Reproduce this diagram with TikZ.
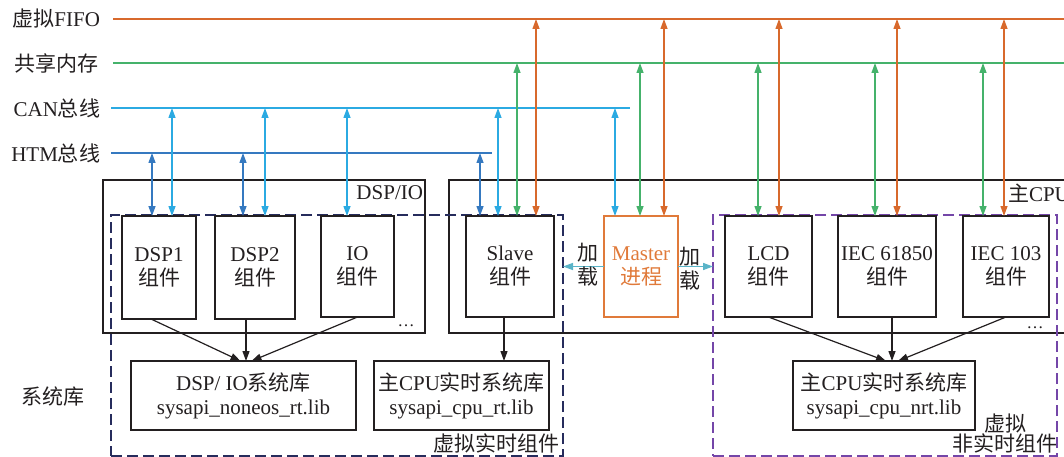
\documentclass[tikz,border=0pt]{standalone}
\usepackage{fontspec}
\setmainfont{Liberation Serif}
\newfontfamily\zhfont{Noto Sans CJK SC}
\usetikzlibrary{arrows.meta}
\definecolor{fifoc}{HTML}{D8692C}
\definecolor{shmc}{HTML}{45B26B}
\definecolor{canc}{HTML}{2BAAE2}
\definecolor{htmc}{HTML}{3579C0}
\definecolor{loadc}{HTML}{5AB4C8}
\definecolor{navyc}{HTML}{262C5C}
\definecolor{purc}{HTML}{7446A8}
\definecolor{txtc}{HTML}{231F20}
\definecolor{masterc}{HTML}{E07A3A}
\newcommand\zh[1]{{\zhfont #1}}
\begin{document}
\begin{tikzpicture}[x=1pt,y=-1pt,
  every node/.style={text=txtc, font=\fontsize{21}{24}\selectfont, inner sep=0pt, outer sep=0pt},
  comp/.style={draw=txtc, line width=1.2pt, anchor=north west, align=center},
  outerbox/.style={draw=txtc, line width=1.2pt, anchor=north west},
  dashbox/.style={line width=2.8pt, dash pattern=on 11pt off 5pt, anchor=north west},
  bus/.style={line width=1.8pt},
  varr/.style={{Triangle[length=10pt,width=7pt]}-{Triangle[length=10pt,width=7pt]}, line width=1.3pt},
  libarr/.style={-{Triangle[length=10pt,width=7pt]}, line width=1.2pt, draw=txtc},
  loadarr/.style={-{Triangle[length=10pt,width=7pt]}, line width=1.5pt, draw=loadc}
]
\clip (0,0) rectangle (1064,457);

% bus labels
\node[anchor=east] (lfifo) at (100,19) {\zh{虚拟}FIFO};
\node[anchor=east] (lshm) at (98,63) {\zh{共享内存}};
\node[anchor=east] (lcan) at (100,108) {CAN\zh{总线}};
\node[anchor=east] (lhtm) at (100,153) {HTM\zh{总线}};
\node (lsys) at (53,397) {\zh{系统库}};

% bus lines
\coordinate (fifoA) at (113,19);  \coordinate (fifoB) at (1064,19);
\coordinate (shmA) at (113,63);   \coordinate (shmB) at (1064,63);
\coordinate (canA) at (111,108);  \coordinate (canB) at (630,108);
\coordinate (htmA) at (111,153);  \coordinate (htmB) at (492,153);
\draw[bus, fifoc] (fifoA) -- (fifoB);
\draw[bus, shmc] (shmA) -- (shmB);
\draw[bus, canc] (canA) -- (canB);
\draw[bus, htmc] (htmA) -- (htmB);

% outer solid boxes
\node[outerbox, minimum width=322, minimum height=153] (dspio) at (103,180) {};
\node[anchor=base east] (dspiol) at (423,199) {DSP/IO};
\node[outerbox, minimum width=640, minimum height=153] (cpu) at (449,180) {};
\node[anchor=base west] (cpul) at (1008,201) {\zh{主}CPU};

% dashed boxes
\node[dashbox, draw=navyc, minimum width=452, minimum height=241] (vrt) at (111,215) {};
\node[anchor=base east] (vrtl) at (559,451) {\zh{虚拟实时组件}};
\node[dashbox, draw=purc, minimum width=344, minimum height=241] (vnrt) at (713,215) {};
\node[align=center, font=\fontsize{21}{20}\selectfont] (vnrtl) at (1005,434) {\zh{虚拟}\\\zh{非实时组件}};

% components
\node[comp, minimum width=74, minimum height=103] (dsp1) at (122,216) {DSP1\\\zh{组件}};
\node[comp, minimum width=80, minimum height=103] (dsp2) at (215,216) {DSP2\\\zh{组件}};
\node[comp, minimum width=73, minimum height=101] (io) at (321,216) {IO\\\zh{组件}};
\node[comp, minimum width=88, minimum height=101] (slave) at (466,216) {Slave\\\zh{组件}};
\node[comp, draw=masterc, text=masterc, minimum width=74, minimum height=101] (master) at (604,216) {Master\\\zh{进程}};
\node[comp, minimum width=87, minimum height=101] (lcd) at (725,216) {LCD\\\zh{组件}};
\node[comp, minimum width=98, minimum height=101] (iec1) at (838,216) {IEC 61850\\\zh{组件}};
\node[comp, minimum width=86, minimum height=101] (iec2) at (963,216) {IEC 103\\\zh{组件}};

% ellipses
\node[anchor=base, font=\fontsize{17}{17}\selectfont] (dots1) at (406,326) {…};
\node[anchor=base, font=\fontsize{17}{17}\selectfont] (dots2) at (1035,328) {…};

% libraries
\node[comp, minimum width=225, minimum height=69] (lib1) at (131,361) {DSP/ IO\zh{系统库}\\sysapi\_noneos\_rt.lib};
\node[comp, minimum width=175, minimum height=69] (lib2) at (374,361) {\zh{主}CPU\zh{实时系统库}\\sysapi\_cpu\_rt.lib};
\node[comp, minimum width=182, minimum height=69] (lib3) at (793,361) {\zh{主}CPU\zh{实时系统库}\\sysapi\_cpu\_nrt.lib};

% component -> library arrows
\draw[libarr] ([xshift=-8pt]dsp1.south) -- ([xshift=-3pt]lib1.north);
\coordinate (d2out) at ([xshift=-9pt]dsp2.south);
\draw[libarr] (d2out) -- (d2out |- lib1.north);
\draw[libarr] (io.south) -- ([xshift=8pt]lib1.north);
\coordinate (slout) at ([xshift=-6pt]slave.south);
\draw[libarr] (slout) -- (slout |- lib2.north);
\draw[libarr] (lcd.south) -- ([xshift=2pt]lib3.north);
\coordinate (i1out) at ([xshift=5pt]iec1.south);
\draw[libarr] (i1out) -- (i1out |- lib3.north);
\draw[libarr] (iec2.south) -- ([xshift=14pt]lib3.north);

% master load arrows
\draw[loadarr] (master.west) -- (master.west -| vrt.east);
\draw[loadarr] (master.east) -- (master.east -| vnrt.west);
\node[align=center] (load1) at (588,265) {\zh{加}\\\zh{载}};
\node[align=center] (load2) at (690,269) {\zh{加}\\\zh{载}};

% bus arrows
\foreach \x/\t in {152/dsp1,243/dsp2,480/slave}{
  \coordinate (p) at (\x,153); \draw[varr, htmc] (p) -- (p |- \t.north);}
\foreach \x/\t in {172/dsp1,265/dsp2,347/io,498/slave,615/master}{
  \coordinate (p) at (\x,108); \draw[varr, canc] (p) -- (p |- \t.north);}
\foreach \x/\t in {517/slave,640/master,758/lcd,875/iec1,983/iec2}{
  \coordinate (p) at (\x,63); \draw[varr, shmc] (p) -- (p |- \t.north);}
\foreach \x/\t in {536/slave,664/master,779/lcd,897/iec1,1004/iec2}{
  \coordinate (p) at (\x,19); \draw[varr, fifoc] (p) -- (p |- \t.north);}
\end{tikzpicture}
\end{document}
